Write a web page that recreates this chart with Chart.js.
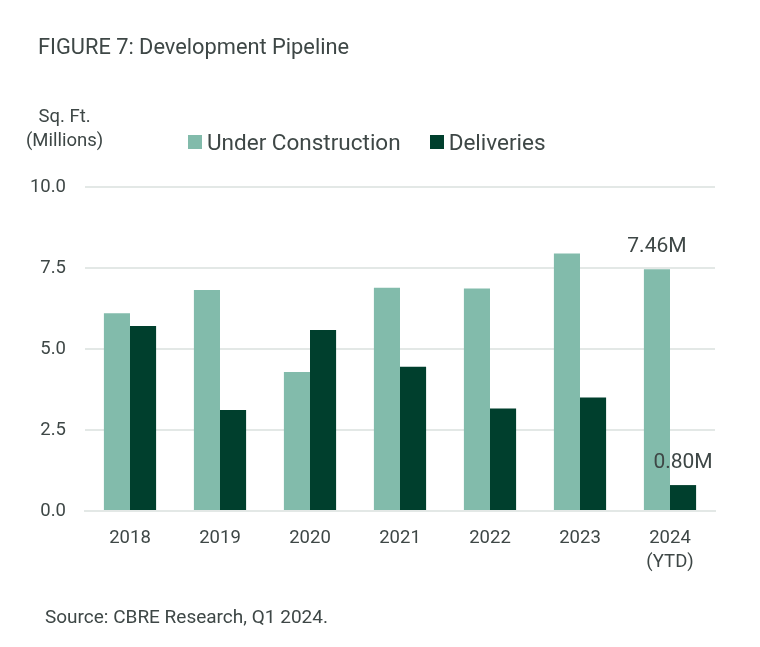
<!DOCTYPE html>
<html>
<head>
<meta charset="utf-8">
<script src="https://cdn.jsdelivr.net/npm/chart.js@4/dist/chart.umd.min.js"></script>
<style>
  html, body { margin: 0; padding: 0; background: #fff; }
  body { width: 760px; height: 647px; position: relative; overflow: hidden; font-family: Roboto, "Liberation Sans", sans-serif; color: #3e4746; }
  #c { position: absolute; left: 0; top: 0; }
  .t { position: absolute; white-space: nowrap; }
  #title { left: 38px; top: 34px; font-size: 21.8px; }
  #unit { left: 26px; top: 104px; font-size: 18.5px; line-height: 24px; text-align: center; }
  #legend { left: 188px; top: 129px; font-size: 22.5px; display: flex; align-items: center; }
  .sw { display: inline-block; width: 14px; height: 14px; margin-right: 5px; }
  #source { left: 45px; top: 605px; font-size: 19px; }
</style>
</head>
<body>
<canvas id="c" width="760" height="647"></canvas>
<div class="t" id="title">FIGURE 7: Development Pipeline</div>
<div class="t" id="unit">Sq. Ft.<br>(Millions)</div>
<div class="t" id="legend"></div>
<div class="t" id="source">Source: CBRE Research, Q1 2024.</div>
<script>
const categories = [['2018'], ['2019'], ['2020'], ['2021'], ['2022'], ['2023'], ['2024', '(YTD)']];
const underConstruction = [6.10, 6.82, 4.29, 6.89, 6.87, 7.95, 7.46];
const deliveries = [5.71, 3.12, 5.59, 4.45, 3.16, 3.50, 0.80];
const seriesNames = ['Under Construction', 'Deliveries'];
const yTicks = [0, 2.5, 5.0, 7.5, 10.0];
const labeledIndex = 6;

const colors = ['#82bbab', '#003f2d'];
const textColor = '#3e4746';

// HTML legend
const legendEl = document.getElementById('legend');
seriesNames.forEach((n, i) => {
  const s = document.createElement('span');
  s.className = 'sw'; s.style.background = colors[i];
  const t = document.createElement('span');
  t.textContent = n;
  t.style.marginRight = i === 0 ? '29px' : '0';
  legendEl.appendChild(s); legendEl.appendChild(t);
});

const valueLabels = {
  id: 'valueLabels',
  afterDatasetsDraw(chart) {
    const ctx = chart.ctx;
    ctx.save();
    ctx.font = '21px Roboto, "Liberation Sans", sans-serif';
    ctx.fillStyle = textColor;
    ctx.textAlign = 'center';
    ctx.textBaseline = 'bottom';
    chart.data.datasets.forEach((ds, di) => {
      const el = chart.getDatasetMeta(di).data[labeledIndex];
      const v = ds.data[labeledIndex];
      ctx.fillText(v.toFixed(2) + 'M', el.x, el.y - 12);
    });
    ctx.restore();
  }
};

new Chart(document.getElementById('c'), {
  type: 'bar',
  data: {
    labels: categories,
    datasets: [
      { label: seriesNames[0], data: underConstruction, backgroundColor: colors[0] },
      { label: seriesNames[1], data: deliveries, backgroundColor: colors[1] }
    ]
  },
  options: {
    responsive: false,
    animation: false,
    devicePixelRatio: 1,
    layout: { padding: { top: 187, right: 45, left: 0, bottom: 0 } },
    plugins: { legend: { display: false }, tooltip: { enabled: false }, title: { display: false } },
    datasets: { bar: { barPercentage: 1.0, categoryPercentage: 0.58 } },
    scales: {
      x: {
        grid: { display: false, drawTicks: false },
        border: { display: true, color: '#e3e8e6', width: 2 },
        ticks: { color: textColor, font: { size: 18.5, family: 'Roboto', lineHeight: 1.3 }, padding: 15, maxRotation: 0 },
        afterFit(s) { s.height = 136; }
      },
      y: {
        min: 0, max: 10,
        afterBuildTicks(s) { s.ticks = yTicks.map(v => ({ value: v })); },
        grid: { color: '#e3e8e6', lineWidth: 2, drawTicks: false },
        border: { display: false },
        ticks: { color: textColor, font: { size: 18.5, family: 'Roboto' }, padding: 19, callback: v => Number(v).toFixed(1) },
        afterFit(s) { s.width = 85; }
      }
    }
  },
  plugins: [valueLabels]
});
</script>
</body>
</html>
